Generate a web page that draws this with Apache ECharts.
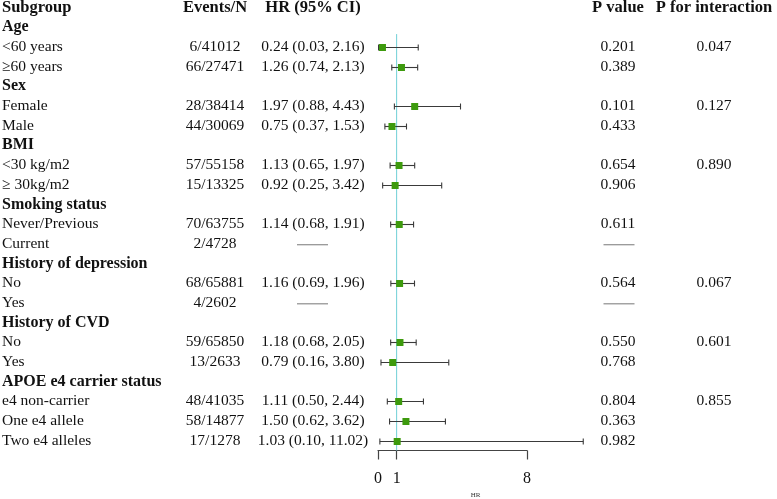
<!DOCTYPE html>
<html><head><meta charset="utf-8">
<script src="https://cdn.jsdelivr.net/npm/echarts@6/dist/echarts.min.js"></script>
<style>html,body{margin:0;padding:0;background:#fff}#c{width:777px;height:499px}</style>
</head><body><div id="c"></div>
<script>
const subgroups = ['Subgroup','Age','<60 years','≥60 years','Sex','Female','Male','BMI','<30 kg/m2','≥ 30kg/m2','Smoking status','Never/Previous','Current','History of depression','No','Yes','History of CVD','No','Yes','APOE e4 carrier status','e4 non-carrier','One e4 allele','Two e4 alleles'];
const isHeading = [1,1,0,0,1,0,0,1,0,0,1,0,0,1,0,0,1,0,0,1,0,0,0];
const eventsN = ['Events/N','','6/41012','66/27471','','28/38414','44/30069','','57/55158','15/13325','','70/63755','2/4728','','68/65881','4/2602','','59/65850','13/2633','','48/41035','58/14877','17/1278'];
const hrText = ['HR (95% CI)','','0.24 (0.03, 2.16)','1.26 (0.74, 2.13)','','1.97 (0.88, 4.43)','0.75 (0.37, 1.53)','','1.13 (0.65, 1.97)','0.92 (0.25, 3.42)','','1.14 (0.68, 1.91)','—','','1.16 (0.69, 1.96)','—','','1.18 (0.68, 2.05)','0.79 (0.16, 3.80)','','1.11 (0.50, 2.44)','1.50 (0.62, 3.62)','1.03 (0.10, 11.02)'];
const hr  = [null,null,0.24,1.26,null,1.97,0.75,null,1.13,0.92,null,1.14,null,null,1.16,null,null,1.18,0.79,null,1.11,1.50,1.03];
const lo  = [null,null,0.03,0.74,null,0.88,0.37,null,0.65,0.25,null,0.68,null,null,0.69,null,null,0.68,0.16,null,0.50,0.62,0.10];
const hi  = [null,null,2.16,2.13,null,4.43,1.53,null,1.97,3.42,null,1.91,null,null,1.96,null,null,2.05,3.80,null,2.44,3.62,11.02];
const pValue = ['P value','','0.201','0.389','','0.101','0.433','','0.654','0.906','','0.611','—','','0.564','—','','0.550','0.768','','0.804','0.363','0.982'];
const pInteraction = ['P for interaction','','0.047','','','0.127','','','0.890','','','','','','0.067','','','0.601','','','0.855','',''];
const xTicks = [0,1,8];
const refHR = 1;

const FONT = 'Liberation Serif';
const TXT = '#111';
const rows = subgroups.map((s,i)=>i);

const chart = echarts.init(document.getElementById('c'), null, {renderer:'canvas'});

function cellText(x, y, text, align, kind){
  let f;
  if (kind === 'top') f = 'bold 16.5px "'+FONT+'"';
  else if (kind === 'head') f = 'bold 16px "'+FONT+'"';
  else f = '15.5px "'+FONT+'"';
  return {type:'text', style:{x:x, y:y, text:text, textAlign:align, textVerticalAlign:'middle', font:f, fill:TXT}};
}
function dash(cx, y){
  return {type:'line', shape:{x1:cx-15.5, y1:y, x2:cx+15.5, y2:y}, style:{stroke:'#777', lineWidth:1}};
}

chart.setOption({
  animation:false,
  grid:{left:378, width:149, top:7.5, height:443, containLabel:false, outerBoundsMode:'none'},
  xAxis:{type:'value', min:0, max:8, position:'bottom',
    axisLine:{show:true, onZero:false, lineStyle:{color:'#444', width:1.2}},
    axisTick:{show:true, customValues:xTicks, inside:false, length:9, lineStyle:{color:'#444', width:1.2}},
    axisLabel:{show:true, customValues:xTicks, margin:20, fontFamily:FONT, fontSize:16, color:TXT, formatter:v=>String(v)},
    splitLine:{show:false},
    name:'HR', nameLocation:'middle', nameGap:32, nameTextStyle:{fontFamily:FONT, fontSize:7, color:'#333', padding:[0,0,0,46]}
  },
  yAxis:{type:'value', min:0, max:22.5, inverse:true, show:false},
  series:[
    {type:'custom', clip:false, silent:true,
     data: rows.map(i=>[refHR, i]),
     renderItem:function(params, api){
       if (api.value(1) !== 0) return null;
       const top = api.coord([refHR, 1.35]);
       const bot = api.coord([refHR, 22.5]);
       return {type:'line', shape:{x1:top[0], y1:top[1], x2:bot[0], y2:bot[1]}, style:{stroke:'#6fcfd6', lineWidth:1}};
     }},
    {type:'custom', clip:false, silent:true,
     data: rows.map(i=>[i]),
     renderItem:function(params, api){
       const i = api.value(0);
       const y = api.coord([0, i])[1];
       const kind = i === 0 ? 'top' : (isHeading[i] === 1 ? 'head' : 'data');
       const ch = [];
       ch.push(cellText(2, y, subgroups[i], 'left', kind));
       if (eventsN[i]) ch.push(cellText(215, y, eventsN[i], 'center', kind));
       if (hrText[i] === '—') ch.push(dash(312.5, y+1)); else if (hrText[i]) ch.push(cellText(313, y, hrText[i], 'center', kind));
       if (pValue[i] === '—') ch.push(dash(619, y+1)); else if (pValue[i]) ch.push(cellText(618, y, pValue[i], 'center', kind));
       if (pInteraction[i]) ch.push(cellText(714, y, pInteraction[i], 'center', kind));
       return {type:'group', children:ch};
     }},
    {type:'custom', clip:false, silent:true,
     data: rows.filter(i=>hr[i]!=null).map(i=>[hr[i], lo[i], hi[i], i]),
     renderItem:function(params, api){
       const r = api.value(3);
       const c = api.coord([api.value(0), r]);
       const l = api.coord([api.value(1), r]);
       const h = api.coord([api.value(2), r]);
       const y = Math.round(c[1]) + 0.5;
       const cap = 3;
       const st = {stroke:'#3a3a3a', lineWidth:1.1};
       return {type:'group', children:[
         {type:'line', shape:{x1:l[0], y1:y, x2:h[0], y2:y}, style:st},
         {type:'line', shape:{x1:l[0], y1:y-cap, x2:l[0], y2:y+cap}, style:st},
         {type:'line', shape:{x1:h[0], y1:y-cap, x2:h[0], y2:y+cap}, style:st},
         {type:'rect', shape:{x:c[0]-3.5, y:y-3.5, width:7, height:7}, style:{fill:'#3d9a0d'}}
       ]};
     }}
  ]
});
</script></body></html>
